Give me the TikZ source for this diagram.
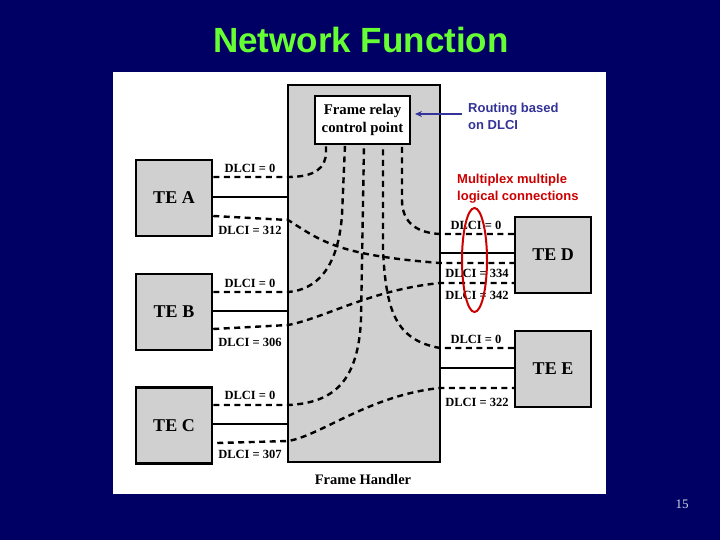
\documentclass[tikz,border=0pt]{standalone}
\usepackage{fontspec}
\setmainfont{Liberation Serif}
\newfontfamily\arialfont{Liberation Sans}
\usetikzlibrary{calc,arrows.meta,shapes.geometric}
\definecolor{navy}{RGB}{0,0,100}
\definecolor{titlegreen}{RGB}{102,255,51}
\definecolor{boxgray}{RGB}{208,208,208}
\definecolor{noteblue}{RGB}{51,51,153}
\definecolor{notered}{RGB}{204,0,0}
\definecolor{pagegray}{RGB}{200,220,232}
\tikzset{
  tebox/.style={draw=black, fill=boxgray, line width=2.5pt, minimum width=76pt, minimum height=76pt, inner sep=0pt,
    font=\fontsize{18}{20}\selectfont\bfseries},
  conn/.style={line width=2.4pt, dash pattern=on 6pt off 4.5pt},
  solidline/.style={line width=2pt},
  lbl/.style={inner sep=0pt, font=\fontsize{12.5}{14}\selectfont\bfseries},
}
\begin{document}
\begin{tikzpicture}[x=1pt,y=-1pt]
\useasboundingbox (0,0) rectangle (720,540);
\fill[navy] (0,0) rectangle (720,540);
\fill[white] (113,72) rectangle (606,494);

\node[inner sep=0pt, text=titlegreen, font=\arialfont\fontsize{35}{38}\selectfont\bfseries] (title) at (361,40) {Network Function};

% frame handler
\node[draw=black, fill=boxgray, line width=2.5pt, minimum width=152pt, minimum height=377pt, inner sep=0pt] (fh) at (364,273.5) {};
\node[draw=black, fill=white, line width=2pt, minimum width=95pt, minimum height=48pt, inner sep=0pt, align=center,
  font=\fontsize{14.8}{18}\selectfont\bfseries] (cp) at (362.5,120) {Frame relay\\control point};
\node[inner sep=0pt, font=\fontsize{14.5}{16}\selectfont\bfseries] (fhl) at (363,480) {Frame Handler};

% terminals
\node[tebox] (tea) at (174,198) {TE A};
\node[tebox] (teb) at (174,312) {TE B};
\node[tebox] (tec) at (174,425.5) {TE C};
\node[tebox] (ted) at (553,255) {TE D};
\node[tebox] (tee) at (553,369) {TE E};

% ports
\coordinate (k1) at (326,145);
\coordinate (k2) at (345,145);
\coordinate (k3) at (364,145);
\coordinate (k4) at (383,145);
\coordinate (k5) at (402,145);
\coordinate (pa0) at (288,177);
\coordinate (pa1) at (288,220);
\coordinate (pb0) at (288,292);
\coordinate (pb1) at (288,325);
\coordinate (pc0) at (288,405);
\coordinate (pc1) at (288,441);
\coordinate (pd0) at (440,234);
\coordinate (pd1) at (440,263);
\coordinate (pd2) at (440,283);
\coordinate (pe0) at (440,348);
\coordinate (pe1) at (440,388);

% solid physical links
\draw[solidline] (tea.east |- 0,197) -- (fh.west |- 0,197);
\draw[solidline] (teb.east |- 0,311) -- (fh.west |- 0,311);
\draw[solidline] (tec.east |- 0,424) -- (fh.west |- 0,424);
\draw[solidline] (fh.east |- 0,253) -- (ted.west |- 0,253);
\draw[solidline] (fh.east |- 0,368) -- (tee.west |- 0,368);

% logical connections to control point
\draw[conn] (tea.east |- pa0) -- (pa0) .. controls (315,177) and (326,168) .. (326,152) -- (k1);
\draw[conn] (teb.east |- pb0) -- (pb0) .. controls (315,290) and (338,270) .. (342,215) -- (k2);
\draw[conn] (tec.east |- pc0) -- (pc0) .. controls (335,403) and (358,380) .. (361,320) -- (k3);
\draw[conn] (tee.west |- pe0) -- (pe0) .. controls (395,340) and (386,310) .. (383,250) -- (k4);
\draw[conn] (ted.west |- pd0) -- (pd0) .. controls (420,233) and (402,225) .. (402,200) -- (k5);

% logical connections between terminals
\draw[conn] ($(tea.east)+(0,18)$) -- (pa1) .. controls (320,240) and (335,255) .. (pd1) -- (ted.west |- pd1);
\draw[conn] ($(teb.east)+(0,17)$) -- (pb1) .. controls (325,318) and (370,290) .. (pd2) -- (ted.west |- pd2);
\draw[conn] ($(tec.east)+(4,17.5)$) -- (pc1) .. controls (320,436) and (370,395) .. (pe1) -- (tee.west |- pe1);

% DLCI labels
\node[lbl] (la0) at (250,168) {DLCI = 0};
\node[lbl] (la1) at (250,230) {DLCI = 312};
\node[lbl] (lb0) at (250,283) {DLCI = 0};
\node[lbl] (lb1) at (250,342) {DLCI = 306};
\node[lbl] (lc0) at (250,395) {DLCI = 0};
\node[lbl] (lc1) at (250,454) {DLCI = 307};
\node[lbl] (ld0) at (476,225) {DLCI = 0};
\node[lbl] (ld1) at (477,273) {DLCI = 334};
\node[lbl] (ld2) at (477,295) {DLCI = 342};
\node[lbl] (le0) at (476,339) {DLCI = 0};
\node[lbl] (le1) at (477,402) {DLCI = 322};

% annotations
\node[inner sep=0pt, anchor=west, align=left, text=noteblue, font=\arialfont\fontsize{13}{17}\selectfont\bfseries] (rt) at (468,116.5) {Routing based\\on DLCI};
\draw[noteblue, line width=1.5pt, -{Stealth[length=7pt,width=6pt]}, shorten >=4pt] ($(rt.west)+(-6,-2.5)$) -- (cp.east |- 0,114);
\node[inner sep=0pt, anchor=west, align=left, text=notered, font=\arialfont\fontsize{13}{17}\selectfont\bfseries] (mx) at (457,188.5) {Multiplex multiple\\logical connections};
\node[draw=notered, line width=2pt, ellipse, minimum width=25pt, minimum height=104pt, inner sep=0pt] (ell) at (474.5,260) {};

\node[inner sep=0pt, text=pagegray, font=\fontsize{13}{15}\selectfont] (pg) at (682,504) {15};
\end{tikzpicture}
\end{document}
